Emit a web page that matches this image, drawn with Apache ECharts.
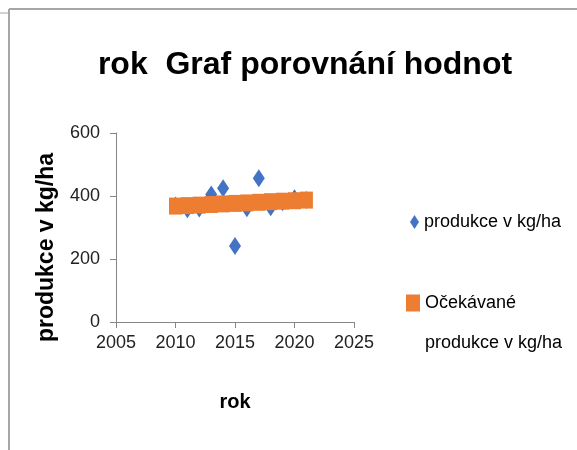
<!DOCTYPE html>
<html>
<head>
<meta charset="utf-8">
<script src="https://cdn.jsdelivr.net/npm/echarts@6/dist/echarts.min.js"></script>
<style>
  html, body { margin: 0; padding: 0; background: #fff; }
  #chart { width: 577px; height: 450px; }
</style>
</head>
<body>
<div id="chart"></div>
<script>
// years and values
const years = [2010, 2011, 2012, 2013, 2014, 2015, 2016, 2017, 2018, 2019, 2020, 2021];
const produkce = [370, 358, 360, 405, 425, 241, 361, 456, 364, 380, 393, 387];
const ocekavane = [368, 369.5, 371, 373, 375, 376.5, 378, 380, 382, 383.5, 385, 387];
const yTicks = [0, 200, 400, 600];
const xTicks = [2005, 2010, 2015, 2020, 2025];

const FONT = '"Liberation Sans", sans-serif';

const chart = echarts.init(document.getElementById('chart'));

chart.setOption({
  backgroundColor: '#fff',
  animation: false,
  title: {
    text: 'rok  Graf porovnání hodnot',
    left: 300,
    top: 44,
    textAlign: 'center',
    textStyle: { fontFamily: FONT, fontSize: 32, fontWeight: 'bold', color: '#000' }
  },
  // outer frame of the chart area
  graphic: [
    { type: 'line', shape: { x1: 9, y1: 9, x2: 577, y2: 9 }, style: { stroke: '#a6a6a6', lineWidth: 2 } },
    { type: 'line', shape: { x1: 9, y1: 9, x2: 9, y2: 450 }, style: { stroke: '#a6a6a6', lineWidth: 2 } },
    { type: 'line', shape: { x1: 0, y1: 13, x2: 9, y2: 13 }, style: { stroke: '#a6a6a6', lineWidth: 1 } }
  ],
  legend: [
    {
      data: ['produkce v kg/ha'],
      left: 410,
      top: 211,
      padding: 0,
      itemWidth: 9,
      itemHeight: 14,
      textStyle: { fontFamily: FONT, fontSize: 18, color: '#000', lineHeight: 22 }
    },
    {
      data: ['Očekávané produkce v kg/ha'],
      left: 406,
      top: 243,
      padding: 0,
      itemWidth: 14,
      itemHeight: 17,
      formatter: function () { return ' \nOčekávané\nprodukce v kg/ha'; },
      textStyle: { fontFamily: FONT, fontSize: 18, color: '#000', lineHeight: 40 }
    }
  ],
  grid: { left: 116, top: 133, right: 223, bottom: 128 },
  xAxis: {
    type: 'value',
    min: xTicks[0],
    max: xTicks[xTicks.length - 1],
    interval: 5,
    name: 'rok',
    nameLocation: 'middle',
    nameGap: 70,
    nameTextStyle: { fontFamily: FONT, fontSize: 20, fontWeight: 'bold', color: '#000' },
    axisLine: { show: true, lineStyle: { color: '#868686', width: 1 } },
    axisTick: { show: true, length: 6, lineStyle: { color: '#868686' } },
    axisLabel: { fontFamily: FONT, fontSize: 18, color: '#222', margin: 12, formatter: v => String(v) },
    splitLine: { show: false }
  },
  yAxis: {
    type: 'value',
    min: yTicks[0],
    max: yTicks[yTicks.length - 1],
    interval: 200,
    name: 'produkce v kg/ha',
    nameLocation: 'middle',
    nameGap: 58,
    nameRotate: 90,
    nameTextStyle: { fontFamily: FONT, fontSize: 23, fontWeight: 'bold', color: '#000', padding: [0, 40, 0, 0] },
    axisLine: { show: true, lineStyle: { color: '#868686', width: 1 } },
    axisTick: { show: true, length: 6, lineStyle: { color: '#868686' } },
    axisLabel: { fontFamily: FONT, fontSize: 18, color: '#222', margin: 16, formatter: v => String(v) },
    splitLine: { show: false }
  },
  series: [
    {
      name: 'produkce v kg/ha',
      type: 'scatter',
      symbol: 'diamond',
      symbolSize: [12, 18],
      itemStyle: { color: '#4472c4', opacity: 1 },
      data: years.map((y, i) => [y, produkce[i]])
    },
    {
      name: 'Očekávané produkce v kg/ha',
      type: 'scatter',
      symbol: 'rect',
      symbolSize: [13, 17],
      itemStyle: { color: '#ed7d31', opacity: 1 },
      data: years.map((y, i) => [y, ocekavane[i]])
    }
  ]
});
</script>
</body>
</html>
